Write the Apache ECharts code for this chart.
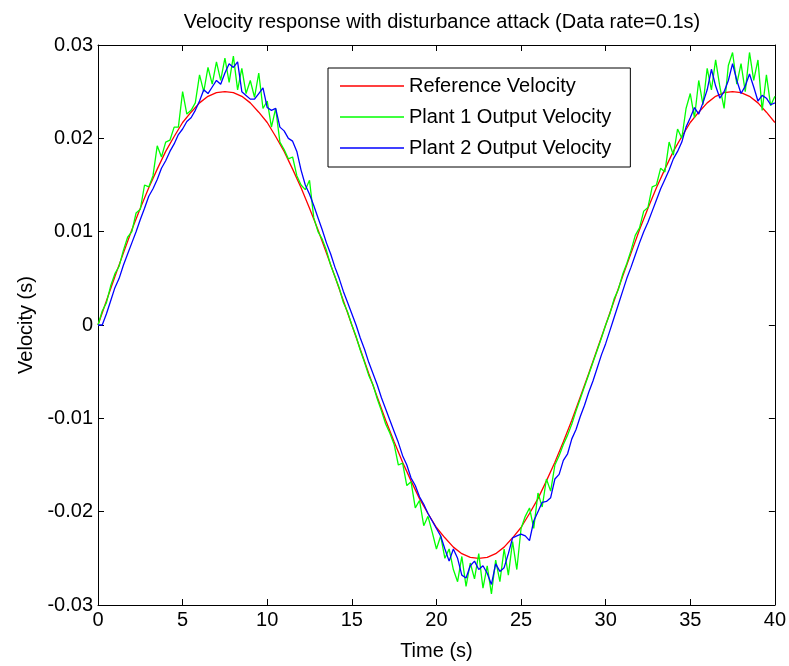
<!DOCTYPE html>
<html>
<head>
<meta charset="utf-8">
<script src="https://cdn.jsdelivr.net/npm/echarts@6/dist/echarts.min.js"></script>
<style>
  html, body { margin: 0; padding: 0; background: #fff; }
  #chart { width: 789px; height: 666px; }
</style>
</head>
<body>
<div id="chart"></div>
<script>
// reference velocity, one value every 0.5 s
var refStep = 0.5;
var refVel = [
  0, 0.0026, 0.0052, 0.0077, 0.0102, 0.0125, 0.0147, 0.0167, 0.0186, 0.0202, 0.0217, 0.0228, 0.0238, 0.0245, 0.0249, 0.025,
  0.0249, 0.0245, 0.0238, 0.0228, 0.0217, 0.0202, 0.0186, 0.0167, 0.0147, 0.0125, 0.0102, 0.0077, 0.0052, 0.0026, 0,
  -0.0026, -0.0052, -0.0077, -0.0102, -0.0125, -0.0147, -0.0167, -0.0186, -0.0202, -0.0217, -0.0228, -0.0238, -0.0245, -0.0249, -0.025,
  -0.0249, -0.0245, -0.0238, -0.0228, -0.0217, -0.0202, -0.0186, -0.0167, -0.0147, -0.0125, -0.0102, -0.0077, -0.0052, -0.0026, 0,
  0.0026, 0.0052, 0.0077, 0.0102, 0.0125, 0.0147, 0.0167, 0.0186, 0.0202, 0.0217, 0.0228, 0.0238, 0.0245, 0.0249, 0.025,
  0.0249, 0.0245, 0.0238, 0.0228, 0.0217
];

// plant outputs, one value every 0.25 s
var plantStep = 0.25;
var plant1Vel = [
  0, 0.0015, 0.0024, 0.0042, 0.0055, 0.0063, 0.0080, 0.0094, 0.0100, 0.0120,
  0.0124, 0.0150, 0.0148, 0.0160, 0.0192, 0.0180, 0.0196, 0.0198, 0.0212, 0.0212,
  0.0250, 0.0226, 0.0230, 0.0238, 0.0268, 0.0250, 0.0276, 0.0258, 0.0282, 0.0262,
  0.0286, 0.0260, 0.0288, 0.0252, 0.0275, 0.0248, 0.0262, 0.0244, 0.0270, 0.0232,
  0.0240, 0.0212, 0.0232, 0.0196, 0.0188, 0.0178, 0.0180, 0.0160, 0.0150, 0.0145,
  0.0155, 0.0115, 0.0100, 0.0092, 0.0080, 0.0064, 0.0052, 0.0040, 0.0024, 0.0014,
  0, -0.0012, -0.0027, -0.0040, -0.0054, -0.0064, -0.0079, -0.0092, -0.0106, -0.0116,
  -0.0128, -0.0150, -0.0148, -0.0172, -0.0168, -0.0196, -0.0188, -0.0215, -0.0205, -0.0222,
  -0.0240, -0.0226, -0.0250, -0.0240, -0.0262, -0.0275, -0.0248, -0.0280, -0.0255, -0.0272,
  -0.0245, -0.0282, -0.0258, -0.0288, -0.0252, -0.0275, -0.0240, -0.0268, -0.0232, -0.0262,
  -0.0218, -0.0205, -0.0196, -0.0218, -0.0180, -0.0195, -0.0165, -0.0178, -0.0150, -0.0140,
  -0.0128, -0.0118, -0.0106, -0.0092, -0.0079, -0.0066, -0.0053, -0.0040, -0.0027, -0.0014,
  0, 0.0012, 0.0028, 0.0038, 0.0054, 0.0066, 0.0080, 0.0096, 0.0104, 0.0122,
  0.0126, 0.0148, 0.0150, 0.0168, 0.0164, 0.0196, 0.0182, 0.0210, 0.0200, 0.0232,
  0.0248, 0.0222, 0.0262, 0.0236, 0.0275, 0.0252, 0.0284, 0.0255, 0.0232, 0.0278,
  0.0292, 0.0258, 0.0280, 0.0250, 0.0292, 0.0262, 0.0284, 0.0230, 0.0268, 0.0235, 0.0245
];
var plant2Vel = [
  0, 0, 0.0012, 0.0026, 0.0040, 0.0050, 0.0064, 0.0076, 0.0088, 0.0100,
  0.0113, 0.0125, 0.0138, 0.0146, 0.0156, 0.0168, 0.0176, 0.0186, 0.0194, 0.0204,
  0.0210, 0.0218, 0.0222, 0.0230, 0.0240, 0.0252, 0.0248, 0.0255, 0.0262, 0.0258,
  0.0270, 0.0280, 0.0276, 0.0282, 0.0250, 0.0246, 0.0242, 0.0242, 0.0248, 0.0254,
  0.0233, 0.0230, 0.0232, 0.0212, 0.0208, 0.0200, 0.0197, 0.0186, 0.0166, 0.0150,
  0.0140, 0.0128, 0.0115, 0.0102, 0.0088, 0.0076, 0.0062, 0.0050, 0.0036, 0.0024,
  0.0012, 0, -0.0014, -0.0026, -0.0040, -0.0052, -0.0064, -0.0078, -0.0090, -0.0102,
  -0.0114, -0.0126, -0.0140, -0.0150, -0.0164, -0.0172, -0.0184, -0.0192, -0.0202, -0.0210,
  -0.0218, -0.0226, -0.0240, -0.0253, -0.0240, -0.0250, -0.0268, -0.0271, -0.0258, -0.0253,
  -0.0262, -0.0258, -0.0266, -0.0278, -0.0256, -0.0264, -0.0260, -0.0245, -0.0228, -0.0226,
  -0.0224, -0.0226, -0.0231, -0.0210, -0.0200, -0.0190, -0.0189, -0.0185, -0.0165, -0.0160,
  -0.0145, -0.0138, -0.0122, -0.0112, -0.0098, -0.0086, -0.0072, -0.0060, -0.0046, -0.0032,
  -0.0020, -0.0006, 0.0008, 0.0022, 0.0036, 0.0050, 0.0062, 0.0075, 0.0088, 0.0100,
  0.0110, 0.0122, 0.0134, 0.0146, 0.0156, 0.0166, 0.0178, 0.0186, 0.0196, 0.0212,
  0.0222, 0.0233, 0.0226, 0.0238, 0.0252, 0.0274, 0.0256, 0.0243, 0.0250, 0.0262,
  0.0280, 0.0262, 0.0248, 0.0256, 0.0269, 0.0255, 0.0240, 0.0246, 0.0243, 0.0236, 0.0238
];

var seriesNames = ['Reference Velocity', 'Plant 1 Output Velocity', 'Plant 2 Output Velocity'];
var seriesColors = ['#ff0000', '#00ff00', '#0000ff'];

function toPairs(arr, step) {
  var out = [];
  for (var i = 0; i < arr.length; i++) {
    out.push([+(i * step).toFixed(2), arr[i]]);
  }
  return out;
}

var fontName = 'Liberation Sans';
var fontSize = 20;
var chart = echarts.init(document.getElementById('chart'), null, { renderer: 'canvas' });

function yLabel(v) {
  if (Math.abs(v) < 1e-9) return '0';
  return (+v.toFixed(2)).toString();
}

var tickStyle = { show: true, inside: true, length: 6, lineStyle: { color: '#000', width: 1 } };
var lineStyleAxis = { show: true, onZero: false, lineStyle: { color: '#000', width: 1 } };
var textStyle = { fontFamily: fontName, fontSize: fontSize, color: '#000' };

var option = {
  backgroundColor: '#fff',
  animation: false,
  title: {
    text: 'Velocity response with disturbance attack (Data rate=0.1s)',
    left: 437,
    top: 7,
    textAlign: 'center',
    textStyle: { fontFamily: fontName, fontSize: fontSize, fontWeight: 'normal', color: '#000' }
  },
  legend: {
    orient: 'vertical',
    left: 328,
    top: 68,
    data: seriesNames,
    icon: 'rect',
    itemWidth: 64,
    itemHeight: 1.5,
    itemGap: 11,
    padding: [8, 19, 9, 12],
    borderColor: '#000',
    borderWidth: 1,
    backgroundColor: '#fff',
    textStyle: textStyle
  },
  grid: { left: 98, right: 10, top: 45, bottom: 61, containLabel: false },
  xAxis: [{
    type: 'value', min: 0, max: 40, interval: 5,
    name: 'Time (s)', nameLocation: 'middle', nameGap: 36,
    nameTextStyle: textStyle,
    axisLine: lineStyleAxis, axisTick: tickStyle,
    axisLabel: { fontFamily: fontName, fontSize: fontSize, color: '#000', margin: 5 },
    splitLine: { show: false }
  }, {
    type: 'value', min: 0, max: 40, interval: 5, position: 'top',
    axisLine: lineStyleAxis, axisTick: tickStyle,
    axisLabel: { show: false }, splitLine: { show: false }
  }],
  yAxis: [{
    type: 'value', min: -0.03, max: 0.03, interval: 0.01,
    name: 'Velocity (s)', nameLocation: 'middle', nameGap: 62,
    nameTextStyle: textStyle,
    axisLine: lineStyleAxis, axisTick: tickStyle,
    axisLabel: { fontFamily: fontName, fontSize: fontSize, color: '#000', margin: 5, formatter: yLabel },
    splitLine: { show: false }
  }, {
    type: 'value', min: -0.03, max: 0.03, interval: 0.01, position: 'right',
    axisLine: lineStyleAxis, axisTick: tickStyle,
    axisLabel: { show: false }, splitLine: { show: false }
  }],
  series: [{
    name: seriesNames[0], type: 'line', showSymbol: false, symbol: 'none',
    data: toPairs(refVel, refStep),
    lineStyle: { color: seriesColors[0], width: 1.3 }, itemStyle: { color: seriesColors[0] }
  }, {
    name: seriesNames[1], type: 'line', showSymbol: false, symbol: 'none',
    data: toPairs(plant1Vel, plantStep),
    lineStyle: { color: seriesColors[1], width: 1.3 }, itemStyle: { color: seriesColors[1] }
  }, {
    name: seriesNames[2], type: 'line', showSymbol: false, symbol: 'none',
    data: toPairs(plant2Vel, plantStep),
    lineStyle: { color: seriesColors[2], width: 1.3 }, itemStyle: { color: seriesColors[2] }
  }]
};

chart.setOption(option);
</script>
</body>
</html>
